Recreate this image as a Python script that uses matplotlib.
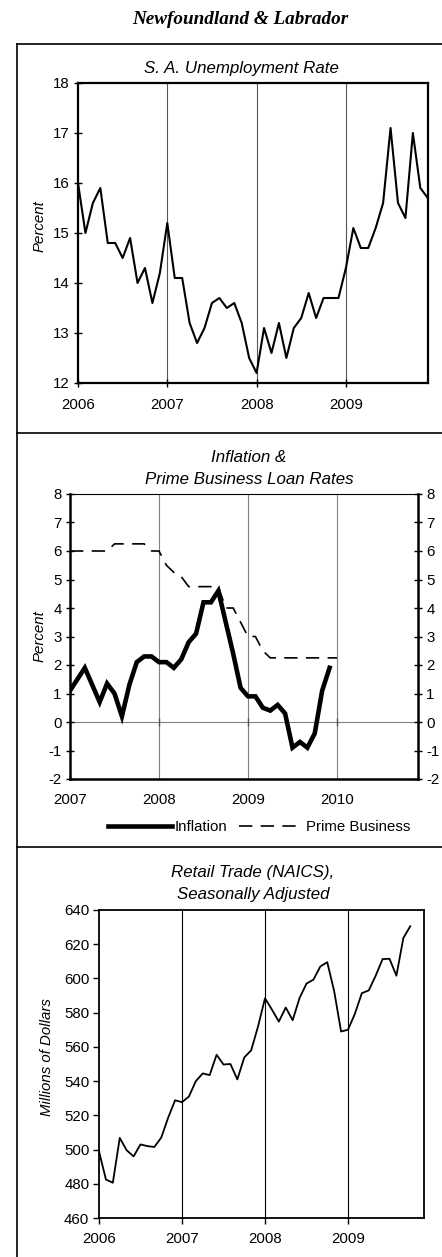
import numpy as np
import matplotlib.pyplot as plt
from matplotlib.lines import Line2D

plt.rcParams['font.family'] = ['Liberation Sans', 'DejaVu Sans']
plt.rcParams['axes.unicode_minus'] = False

W, H = 442, 1257

# Newfoundland & Labrador monthly series
unemp_start = 2006
unemp = [16.0, 15.0, 15.6, 15.9, 14.8, 14.8, 14.5, 14.9, 14.0, 14.3, 13.6, 14.2,
         15.2, 14.1, 14.1, 13.2, 12.8, 13.1, 13.6, 13.7, 13.5, 13.6, 13.2, 12.5,
         12.2, 13.1, 12.6, 13.2, 12.5, 13.1, 13.3, 13.8, 13.3, 13.7, 13.7, 13.7,
         14.3, 15.1, 14.7, 14.7, 15.1, 15.6, 17.1, 15.6, 15.3, 17.0, 15.9, 15.7]

infl_start = 2007
inflation = [1.1, 1.5, 1.9, 1.3, 0.7, 1.35, 1.0, 0.2, 1.3, 2.1, 2.3, 2.3,
             2.1, 2.1, 1.9, 2.2, 2.8, 3.1, 4.2, 4.2, 4.6, 3.5, 2.4, 1.2,
             0.9, 0.9, 0.5, 0.4, 0.6, 0.3, -0.9, -0.7, -0.9, -0.4, 1.1, 1.9]
prime = [6.0, 6.0, 6.0, 6.0, 6.0, 6.0, 6.25, 6.25, 6.25, 6.25, 6.25, 6.0,
         6.0, 5.5, 5.25, 5.1, 4.75, 4.75, 4.75, 4.75, 4.75, 4.0, 4.0, 3.5,
         3.0, 3.0, 2.5, 2.25, 2.25, 2.25, 2.25, 2.25, 2.25, 2.25, 2.25, 2.25,
         2.25]

retail_start = 2006
retail = [499, 482.5, 480.6, 506.8, 499.6, 496, 503, 502, 501.5, 507, 518.6, 528.8,
          527.7, 531, 540, 544.5, 543.5, 555.4, 549.7, 550, 541, 553.8, 558, 572,
          588.4, 581.8, 574.8, 583, 575.6, 588.6, 597, 599.3, 607, 609.5, 592.6, 569,
          570, 579.4, 591.4, 593, 601.6, 611.3, 611.5, 601.6, 623.6, 630.5]

years_a = [2006, 2007, 2008, 2009]
years_b = [2007, 2008, 2009, 2010]


def monthly(start, vals):
    return start + np.arange(len(vals)) / 12.0


def px_axes(fig, left, top, right, bottom):
    return fig.add_axes([left / W, 1 - bottom / H, (right - left) / W, (bottom - top) / H])


def fig_text(fig, x, y, s, **kw):
    fig.text(x / W, 1 - y / H, s, ha='center', va='center', **kw)


fig = plt.figure(figsize=(W / 100, H / 100), dpi=100)

# outer frame and panel separators
frame_kw = dict(color='black', lw=1.2, transform=fig.transFigure)
fig.add_artist(Line2D([17 / W, 17 / W], [0, 1 - 44 / H], **frame_kw))
for yy in (44, 433, 847):
    fig.add_artist(Line2D([17 / W, 1], [1 - yy / H, 1 - yy / H], **frame_kw))

fig_text(fig, 240, 20, 'Newfoundland & Labrador', fontsize=13.8, fontweight='bold',
         fontstyle='italic', family=['Liberation Serif', 'DejaVu Serif'])

tick_fs = 10.8
title_fs = 12.2

# --- unemployment rate ---
ax1 = px_axes(fig, 78, 83, 428, 383)
ax1.plot(monthly(unemp_start, unemp), unemp, color='black', lw=1.5)
ax1.set_xlim(2006, 2006 + 350 / 89.3)
ax1.set_ylim(12, 18)
ax1.set_xticks(years_a)
ax1.set_yticks(range(12, 19))
for yr in years_a[1:]:
    ax1.axvline(yr, color='#555555', lw=0.8, zorder=0)
for sp in ax1.spines.values():
    sp.set_linewidth(1.6)
ax1.tick_params(axis='both', direction='inout', length=6, width=1, labelsize=tick_fs)
ax1.tick_params(axis='y', pad=3)
ax1.tick_params(axis='x', pad=8)
fig_text(fig, 241, 69, 'S. A. Unemployment Rate', fontsize=title_fs, fontstyle='italic')
fig_text(fig, 40, 226, 'Percent', fontsize=tick_fs, fontstyle='italic', rotation=90)

# --- inflation & prime business loan rate ---
ax2 = px_axes(fig, 70, 494, 418, 779)
ax2.plot(monthly(infl_start, inflation), inflation, color='black', lw=3.3,
         label='Inflation', solid_joinstyle='miter')
ax2.plot(monthly(infl_start, prime), prime, color='black', lw=1.2,
         dashes=(8, 5), label='Prime Business')
ax2.set_xlim(2007, 2007 + 348 / 89.0)
ax2.set_ylim(-2, 8)
ax2.set_xticks(years_b)
ax2.set_yticks(range(-2, 9))
for yr in years_b[1:]:
    ax2.axvline(yr, color='#808080', lw=0.8, zorder=0)
ax2.axhline(0, color='#808080', lw=0.8, zorder=0)
ax2.plot(years_b[1:], [0] * 3, '|', color='#555555', ms=6, mew=1)
for side in ('left', 'bottom', 'right'):
    ax2.spines[side].set_linewidth(1.8)
ax2.spines['top'].set_linewidth(0.8)
ax2.tick_params(axis='y', direction='inout', length=6, width=1, labelsize=tick_fs,
                right=True, labelright=True, pad=3)
ax2.tick_params(axis='x', length=0, labelsize=tick_fs, pad=10)
fig_text(fig, 249, 457, 'Inflation &', fontsize=title_fs, fontstyle='italic')
fig_text(fig, 249, 480, 'Prime Business Loan Rates', fontsize=title_fs, fontstyle='italic')
fig_text(fig, 40, 636, 'Percent', fontsize=tick_fs, fontstyle='italic', rotation=90)
fig.legend(*ax2.get_legend_handles_labels(), loc='center', ncol=2, frameon=False,
           bbox_to_anchor=(259 / W, 1 - 827 / H), fontsize=tick_fs, handlelength=4.3,
           handletextpad=0.15, columnspacing=0.8)

# --- retail trade ---
ax3 = px_axes(fig, 99, 910, 424, 1218)
ax3.plot(monthly(retail_start, retail), retail, color='black', lw=1.3)
ax3.set_xlim(2006, 2006 + 325 / 83.0)
ax3.set_ylim(460, 640)
ax3.set_xticks(years_a)
ax3.set_yticks(range(460, 641, 20))
for yr in years_a[1:]:
    ax3.axvline(yr, color='black', lw=0.8, zorder=0)
for sp in ax3.spines.values():
    sp.set_linewidth(1.3)
ax3.tick_params(axis='both', direction='out', length=4, width=1, labelsize=tick_fs)
ax3.tick_params(axis='y', pad=3)
ax3.tick_params(axis='x', pad=6)
fig_text(fig, 253, 873, 'Retail Trade (NAICS),', fontsize=title_fs, fontstyle='italic')
fig_text(fig, 253, 895, 'Seasonally Adjusted', fontsize=title_fs, fontstyle='italic')
fig_text(fig, 47, 1057, 'Millions of Dollars', fontsize=tick_fs, fontstyle='italic',
         rotation=90)

fig.savefig('out.png', dpi=100)
